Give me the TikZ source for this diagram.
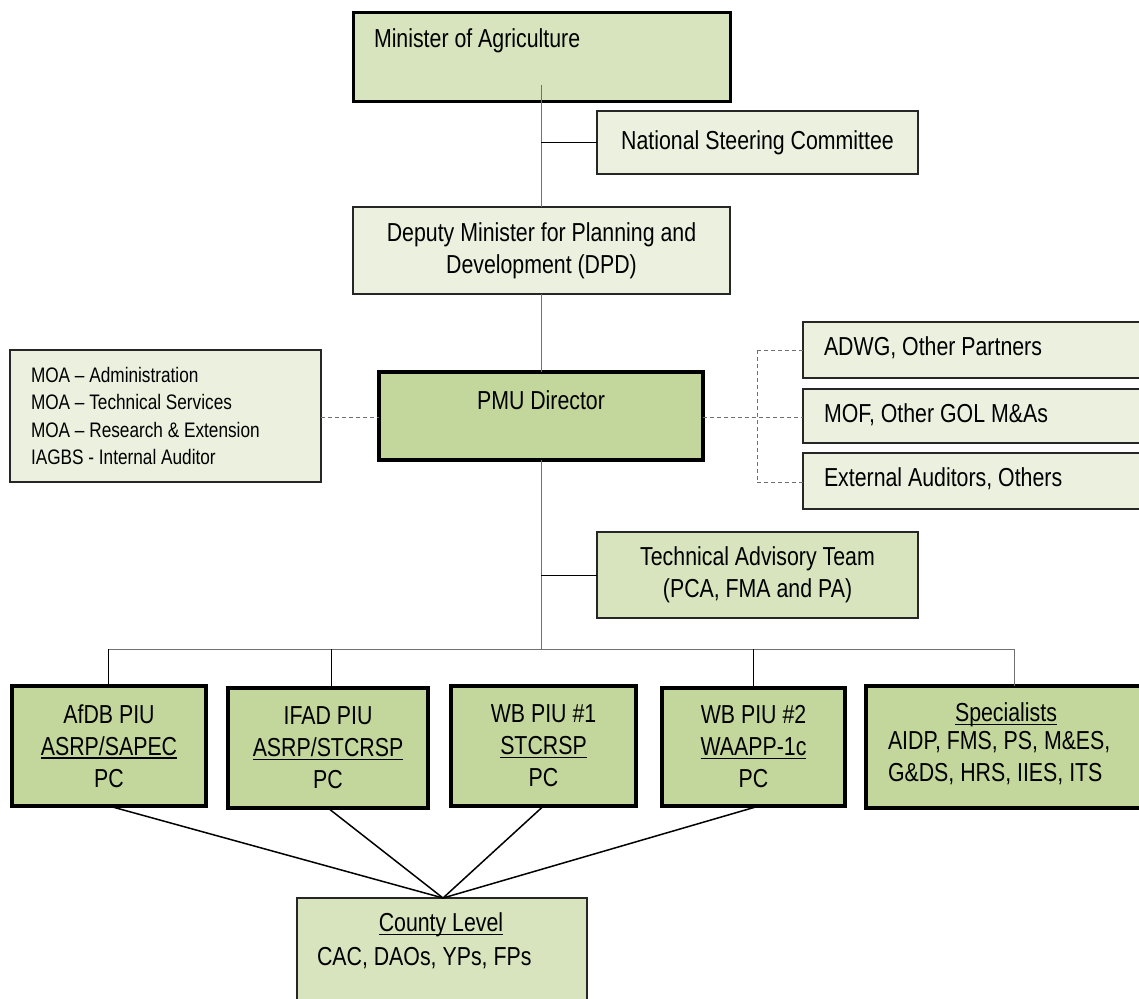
\documentclass[tikz,border=0pt]{standalone}
\usepackage{fontspec}
\setmainfont[FakeStretch=0.82]{Liberation Sans}
\usetikzlibrary{calc}
\definecolor{gDark}{HTML}{C3D69B}
\definecolor{gMid}{HTML}{D7E4BD}
\definecolor{gLight}{HTML}{EBF1DE}
\definecolor{lineGray}{HTML}{707070}
\newcommand\ulx[1]{\setbox0\hbox{#1}\rlap{\rule[-3.5pt]{\wd0}{1.4pt}}\box0}
\newcommand\mkbox[6]{\node[#6, minimum width={#4-#2}, minimum height={#5-#3}] (#1) at (#2,#3) {};}
\begin{document}
\begin{tikzpicture}[x=1pt,y=-1pt,
  every node/.style={inner sep=0pt, outer sep=0pt},
  txt/.style={font=\fontsize{26}{32}\selectfont, text=black},
  smalltxt/.style={font=\fontsize{21}{27.5}\selectfont, text=black},
  thinbox/.style={draw=black!85, line width=1.3pt, anchor=north west},
  thickbox/.style={draw=black, line width=3.5pt, anchor=north west},
  conn/.style={draw=black, line width=1pt},
  grayconn/.style={draw=lineGray, line width=1pt},
  dashconn/.style={draw=lineGray, line width=1pt, dash pattern=on 4pt off 3pt}]
\useasboundingbox (0,0) rectangle (1139,998);
% boxes
\mkbox{min}{353}{13}{730}{101}{thickbox, fill=gMid, line width=3pt}
\mkbox{nsc}{597}{111}{918}{174}{thinbox, fill=gLight}
\mkbox{dpd}{353}{207}{730}{294}{thinbox, fill=gLight}
\mkbox{pmu}{379}{372}{703}{460}{thickbox, fill=gDark, line width=4pt}
\mkbox{moa}{10}{350}{321}{482}{thinbox, fill=gLight}
\mkbox{adwg}{803}{322}{1145}{378}{thinbox, fill=gLight}
\mkbox{mof}{803}{389}{1145}{443}{thinbox, fill=gLight}
\mkbox{ext}{803}{453}{1145}{509}{thinbox, fill=gLight}
\mkbox{tat}{597}{532}{918}{618}{thinbox, fill=gMid}
\mkbox{afdb}{12}{686}{206}{806}{thickbox, fill=gDark}
\mkbox{ifad}{228}{688}{428}{808}{thickbox, fill=gDark}
\mkbox{wb1}{451}{686}{636}{806}{thickbox, fill=gDark}
\mkbox{wb2}{662}{688}{845}{806}{thickbox, fill=gDark}
\mkbox{spec}{866}{686}{1145}{808}{thickbox, fill=gDark}
\mkbox{cty}{297}{898}{587}{1010}{thinbox, fill=gMid}
% texts
\node[txt, anchor=west] (tmin) at (374,41) {Minister of Agriculture};
\node[txt] (tnsc) at (nsc.center) {National Steering Committee};
\node[txt, align=center] (tdpd) at (dpd.center) {Deputy Minister for Planning and\\Development (DPD)};
\node[txt] (tpmu) at (541,400) {PMU Director};
\node[smalltxt, align=left, anchor=west] (tmoa) at (31,416) {MOA -- Administration\\MOA -- Technical Services\\MOA -- Research \& Extension\\IAGBS - Internal Auditor};
\node[txt, anchor=west] (tadwg) at (824,348) {ADWG, Other Partners};
\node[txt, anchor=west] (tmof) at (824,415) {MOF, Other GOL M\&As};
\node[txt, anchor=west] (text) at (824,479) {External Auditors, Others};
\node[txt, align=center] (ttat) at (tat.center) {Technical Advisory Team\\(PCA, FMA and PA)};
\node[txt, align=center] (tafdb) at (afdb.center) {AfDB PIU\\\ulx{ASRP/SAPEC}\\PC};
\node[txt, align=center] (tifad) at (ifad.center) {IFAD PIU\\\ulx{ASRP/STCRSP}\\PC};
\node[txt, align=center] (twb1) at (wb1.center) {WB PIU \#1\\\ulx{STCRSP}\\PC};
\node[txt, align=center] (twb2) at (wb2.center) {WB PIU \#2\\\ulx{WAAPP-1c}\\PC};
\node[txt] (tspec) at (1006,715) {\ulx{Specialists}};
\node[txt, align=left, anchor=north west] (tspecl) at (888,731) {AIDP, FMS, PS, M\&ES,\\G\&DS, HRS, IIES, ITS};
\node[txt] (tcty) at (441,925) {\ulx{County Level}};
\node[txt, anchor=west] (tcty2) at (317,958) {CAC, DAOs, YPs, FPs};
% coordinates
\coordinate (mtop) at (541,85);
\coordinate (nscj) at (541,142);
\coordinate (tatj) at (541,575);
\coordinate (bus) at (541,649);
\coordinate (busL) at (108,649);
\coordinate (busR) at (1014,649);
\coordinate (rj) at (757,417);
\coordinate (rjt) at (757,350);
\coordinate (rjb) at (757,482);
\coordinate (meet) at (443,898);
% connectors
\draw[grayconn] (mtop) -- (541,207);
\draw[grayconn] (dpd.south -| mtop) -- (pmu.north -| mtop);
\draw[grayconn] (pmu.south -| mtop) -- (bus);
\draw[conn] (nscj) -- (nsc.west |- nscj);
\draw[conn] (tatj) -- (tat.west |- tatj);
\draw[grayconn] (busL) -- (busR);
\draw[conn] (busL) -- (afdb.north -| busL);
\draw[conn] (331,649) -- (ifad.north -| 331,0);
\draw[conn] (753,649) -- (wb2.north -| 753,0);
\draw[grayconn] (busR) -- (spec.north -| busR);
\draw[dashconn] (moa.east |- 0,417) -- (pmu.west |- 0,417);
\draw[dashconn] (pmu.east |- rj) -- (mof.west |- rj);
\draw[dashconn] (rjt) -- (rjb);
\draw[dashconn] (rjt) -- (adwg.west |- rjt);
\draw[dashconn] (rjb) -- (ext.west |- rjb);
\draw[conn, line width=1.5pt] (afdb.south) -- (meet);
\draw[conn, line width=1.5pt] (ifad.south) -- (meet);
\draw[conn, line width=1.5pt] (wb1.south) -- (meet);
\draw[conn, line width=1.5pt] (759,806) -- (meet);
\end{tikzpicture}
\end{document}
